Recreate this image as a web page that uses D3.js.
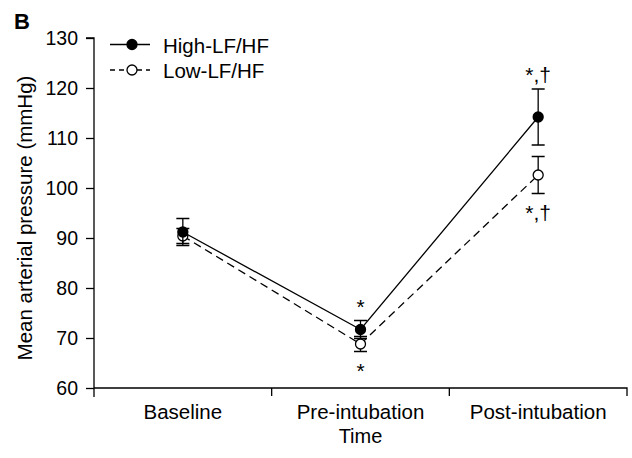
<!DOCTYPE html>
<html>
<head>
<meta charset="utf-8">
<script src="https://cdn.jsdelivr.net/npm/d3@7"></script>
<style>
  body { margin: 0; background: #fff; }
  svg { font-family: "Liberation Sans", Arial, sans-serif; }
</style>
</head>
<body>
<div class="canvas"></div>
<script>
// data
const timepoints = ['Baseline', 'Pre-intubation', 'Post-intubation'];
const highMean = [91.2, 71.7, 114.2];
const highErr = [2.7, 1.8, 5.6];
const lowMean = [90.4, 68.8, 102.6];
const lowErr = [1.5, 1.5, 3.7];
const yTicks = [60, 70, 80, 90, 100, 110, 120, 130];
const highMarks = ['', '*', '*,\u2020'];
const lowMarks = ['', '*', '*,\u2020'];

const dims = {width: 632, height: 458};
const margin = {top: 38, right: 5, bottom: 70, left: 94};

const svg = d3.select('.canvas')
  .append('svg')
  .attr('width', dims.width)
  .attr('height', dims.height);

const x = d3.scaleBand()
  .domain(timepoints)
  .range([margin.left, 627]);

const y = d3.scaleLinear()
  .domain([60, 130])
  .range([388, margin.top]);

// y axis
const yAxis = svg.append('g')
  .attr('transform', `translate(${margin.left}, 0)`)
  .call(d3.axisLeft(y).tickValues(yTicks).tickSize(8).tickPadding(8));

yAxis.select('.domain').attr('d', `M-8,${y(130)}H0V${y(60) + 9}`);
yAxis.selectAll('.tick text').attr('font-size', 19.5);

// x axis with ticks at band edges
const xAxis = svg.append('g')
  .attr('transform', `translate(0, ${y(60)})`)
  .call(d3.axisBottom(x).tickSize(0).tickPadding(16));

xAxis.select('.domain').attr('d', `M${margin.left},0H${x.range()[1]}V8`);
xAxis.selectAll('.tick text').attr('font-size', 20.5);

xAxis.selectAll('.edge')
  .data(timepoints.slice(1))
  .enter()
  .append('line')
    .attr('class', 'edge')
    .attr('x1', d => x(d))
    .attr('x2', d => x(d))
    .attr('y1', 0)
    .attr('y2', 8)
    .attr('stroke', '#000');

svg.selectAll('.tick text')
  .attr('fill', '#000')
  .attr('font-family', '"Liberation Sans", Arial, sans-serif');
svg.selectAll('.domain, .tick line').attr('stroke', '#000').attr('stroke-width', 1.3);
svg.selectAll('.edge').attr('stroke-width', 1.3);

// axis titles
svg.append('text')
  .attr('x', (margin.left + 627) / 2)
  .attr('y', 443)
  .attr('text-anchor', 'middle')
  .attr('font-size', 20)
  .text('Time');

svg.append('text')
  .attr('transform', `translate(32, ${y(94)}) rotate(-90)`)
  .attr('text-anchor', 'middle')
  .attr('font-size', 20.5)
  .text('Mean arterial pressure (mmHg)');

svg.append('text')
  .attr('x', 14)
  .attr('y', 29)
  .attr('font-size', 22)
  .attr('font-weight', 'bold')
  .text('B');

const cx = d => x(d) + x.bandwidth() / 2;

const series = [
  {mean: highMean, err: highErr, fill: '#000', dash: null, marks: highMarks, above: true},
  {mean: lowMean, err: lowErr, fill: '#fff', dash: '8,5', marks: lowMarks, above: false}
];

const line = d3.line()
  .x(d => cx(d.t))
  .y(d => y(d.v));

// draw low first so high sits on top
series.slice().reverse().forEach(s => {
  const pts = timepoints.map((t, i) => ({t, v: s.mean[i], e: s.err[i], m: s.marks[i]}));

  svg.append('path')
    .datum(pts)
    .attr('fill', 'none')
    .attr('stroke', '#000')
    .attr('stroke-width', 1.3)
    .attr('stroke-dasharray', s.dash)
    .attr('d', line);

  const bars = svg.append('g');
  bars.selectAll('.bar')
    .data(pts)
    .enter()
    .append('path')
      .attr('fill', 'none')
      .attr('stroke', '#000')
      .attr('stroke-width', 1.3)
      .attr('d', d => {
        const px = cx(d.t), top = y(d.v + d.e), bot = y(d.v - d.e);
        return `M${px - 6.5},${top}H${px + 6.5}M${px},${top}V${bot}M${px - 6.5},${bot}H${px + 6.5}`;
      });

  svg.append('g').selectAll('circle')
    .data(pts)
    .enter()
    .append('circle')
      .attr('cx', d => cx(d.t))
      .attr('cy', d => y(d.v))
      .attr('r', 5)
      .attr('fill', s.fill)
      .attr('stroke', '#000')
      .attr('stroke-width', 1.3);

  svg.append('g').selectAll('text')
    .data(pts.filter(d => d.m))
    .enter()
    .append('text')
      .attr('x', d => cx(d.t))
      .attr('y', d => s.above ? y(d.v + d.e) - 7 : y(d.v - d.e) + 26)
      .attr('text-anchor', 'middle')
      .attr('font-size', 21)
      .text(d => d.m);
});

// legend
const legend = svg.append('g').attr('transform', 'translate(110, 44.5)');
const legendItems = [
  {label: 'High-LF/HF', fill: '#000', dash: null},
  {label: 'Low-LF/HF', fill: '#fff', dash: '5,4'}
];
legendItems.forEach((d, i) => {
  const g = legend.append('g').attr('transform', `translate(0, ${i * 25.5})`);
  g.append('line')
    .attr('x1', 0).attr('x2', 40)
    .attr('stroke', '#000')
    .attr('stroke-width', 1.3)
    .attr('stroke-dasharray', d.dash);
  g.append('circle')
    .attr('cx', 22).attr('r', 5)
    .attr('fill', d.fill)
    .attr('stroke', '#000')
    .attr('stroke-width', 1.3);
  g.append('text')
    .attr('x', 53).attr('y', 8)
    .attr('font-size', 20.5)
    .text(d.label);
});
</script>
</body>
</html>
